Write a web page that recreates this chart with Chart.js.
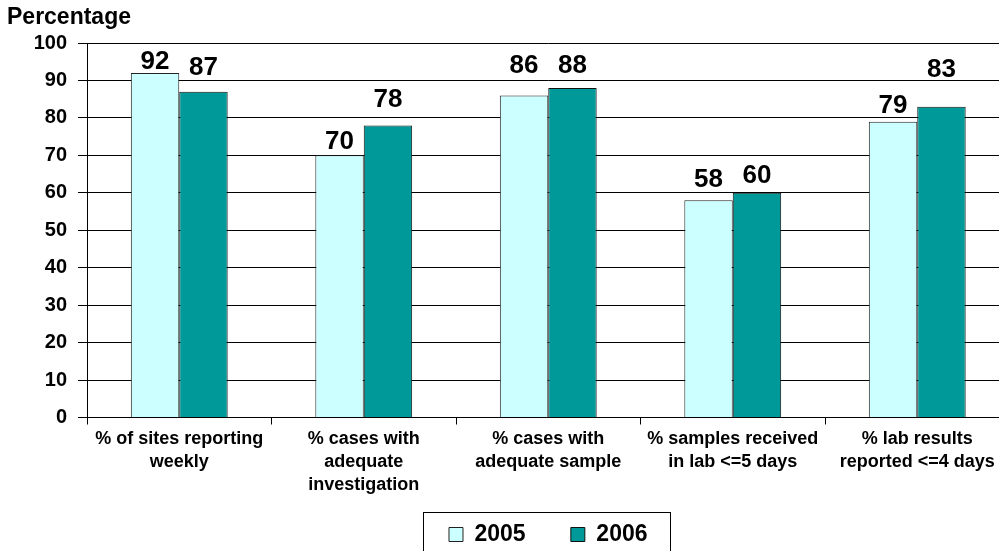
<!DOCTYPE html>
<html lang="en">
<head>
    <meta charset="UTF-8">
    <title>Percentage by indicator, 2005 and 2006</title>
    <script src="https://cdn.jsdelivr.net/npm/chart.js"></script>
    <style>
        html, body {
            margin: 0;
            padding: 0;
            background: #fff;
            overflow: hidden;
        }
        .chart-container {
            position: relative;
            width: 1020px;
            height: 556px;
        }
    </style>
</head>
<body>
    <div class="chart-container">
        <canvas id="perfChart"></canvas>
    </div>

    <script>
        // categories (multi-line labels)
        const categories = [
            ['% of sites reporting', 'weekly'],
            ['% cases with', 'adequate', 'investigation'],
            ['% cases with', 'adequate sample'],
            ['% samples received', 'in lab <=5 days'],
            ['% lab results', 'reported <=4 days']
        ];
        const years = ['2005', '2006'];
        const values2005 = [92, 70, 86, 58, 79];
        const values2006 = [87, 78, 88, 60, 83];
        const yTicks = [0, 10, 20, 30, 40, 50, 60, 70, 80, 90, 100];

        const FONT = "'Liberation Sans', Arial, sans-serif";

        // value labels above each bar (the original labels sit at uneven heights)
        const valueLabels = {
            id: 'valueLabels',
            afterDatasetsDraw(chart, args, opts) {
                const ctx = chart.ctx;
                ctx.save();
                ctx.font = 'bold 26px ' + FONT;
                ctx.fillStyle = '#000';
                ctx.textAlign = 'center';
                ctx.textBaseline = 'alphabetic';
                chart.data.datasets.forEach((ds, i) => {
                    const gaps = opts.gaps[i];
                    chart.getDatasetMeta(i).data.forEach((bar, j) => {
                        ctx.fillText(ds.data[j], bar.x, bar.y - gaps[j]);
                    });
                });
                ctx.restore();
            }
        };

        // axis caption top-left + frame around the legend
        const extras = {
            id: 'extras',
            afterDraw(chart) {
                const ctx = chart.ctx;
                ctx.save();
                ctx.font = 'bold 23px ' + FONT;
                ctx.fillStyle = '#000';
                ctx.textAlign = 'left';
                ctx.textBaseline = 'middle';
                ctx.fillText('Percentage', 7, 18);

                const boxes = chart.legend.legendHitBoxes;
                if (boxes && boxes.length) {
                    const first = boxes[0];
                    const last = boxes[boxes.length - 1];
                    ctx.font = 'bold 23px ' + FONT;
                    const lastText = ctx.measureText(years[years.length - 1]).width;
                    const left = Math.round(first.left - 26) + 0.5;
                    const right = Math.round(last.left + 14 + 11.5 + lastText + 22) + 0.5;
                    const top = Math.round(first.top - 11) + 0.5;
                    ctx.strokeStyle = '#000';
                    ctx.lineWidth = 1;
                    ctx.strokeRect(left, top, right - left, 100);
                }
                ctx.restore();
            }
        };

        const ctx = document.getElementById('perfChart').getContext('2d');
        new Chart(ctx, {
            type: 'bar',
            data: {
                labels: categories,
                datasets: [
                    {
                        label: years[0],
                        data: values2005,
                        backgroundColor: '#CCFFFF',
                        borderColor: '#222222',
                        borderWidth: 1,
                        borderSkipped: 'bottom'
                    },
                    {
                        label: years[1],
                        data: values2006,
                        backgroundColor: '#009999',
                        borderColor: '#111111',
                        borderWidth: 1,
                        borderSkipped: 'bottom'
                    }
                ]
            },
            options: {
                responsive: true,
                maintainAspectRatio: false,
                animation: false,
                datasets: {
                    bar: {
                        categoryPercentage: 0.525,
                        barPercentage: 1.0
                    }
                },
                layout: {
                    padding: { top: 43, right: 10.5, left: 0, bottom: 0 }
                },
                scales: {
                    x: {
                        grid: {
                            display: true,
                            offset: true,
                            drawOnChartArea: false,
                            drawTicks: true,
                            tickLength: 7,
                            color: '#000'
                        },
                        border: { display: true, color: '#000', width: 1 },
                        ticks: {
                            color: '#000',
                            padding: 3,
                            maxRotation: 0,
                            autoSkip: false,
                            font: { family: FONT, size: 18, weight: 'bold', lineHeight: 1.28 }
                        },
                        afterFit(scale) {
                            scale.height = 79.5;
                        }
                    },
                    y: {
                        min: 0,
                        max: 100,
                        afterBuildTicks(scale) {
                            scale.ticks = yTicks.map(v => ({ value: v }));
                        },
                        grid: {
                            color: '#000',
                            lineWidth: 1,
                            drawTicks: true,
                            tickLength: 9
                        },
                        border: { display: true, color: '#000', width: 1 },
                        ticks: {
                            color: '#000',
                            padding: 11,
                            font: { family: FONT, size: 20, weight: 'bold' }
                        },
                        afterFit(scale) {
                            scale.width = 87;
                        }
                    }
                },
                plugins: {
                    legend: {
                        display: true,
                        position: 'bottom',
                        fullSize: false,
                        labels: {
                            color: '#000',
                            boxWidth: 14,
                            boxHeight: 14,
                            padding: 26,
                            font: { family: FONT, size: 23, weight: 'bold' },
                            generateLabels(chart) {
                                const items = Chart.defaults.plugins.legend.labels.generateLabels(chart);
                                // widen the gap between the two entries
                                items.forEach((it, i) => {
                                    if (i < items.length - 1) it.text = it.text + '   ';
                                });
                                return items;
                            }
                        }
                    },
                    valueLabels: {
                        gaps: [
                            [4, 6, 22, 13, 9],
                            [17, 18, 15, 10, 30]
                        ]
                    },
                    tooltip: { enabled: false },
                    title: { display: false }
                }
            },
            plugins: [valueLabels, extras]
        });
    </script>
</body>
</html>
